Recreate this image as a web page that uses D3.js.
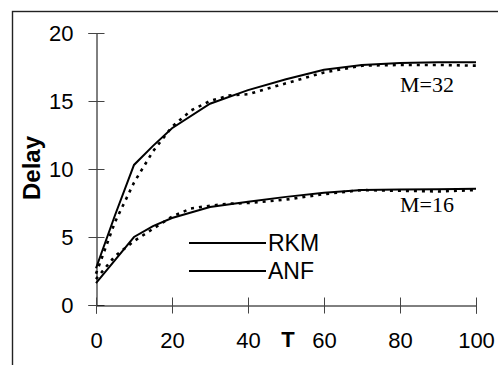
<!DOCTYPE html>
<head>
  <meta charset="utf-8">
  <script src="https://d3js.org/d3.v7.min.js"></script>
  <style>
    body { margin: 0; background: #fff; }
    svg { display: block; }
  </style>
</head>
<body>
  <div class="chart"></div>
  <script>
    // data
    var tRKM = [0, 5, 10, 15, 20, 30, 40, 50, 60, 70, 80, 90, 100];
    var rkm32 = [2.7, 6.6, 10.3, 11.7, 13.0, 14.8, 15.8, 16.6, 17.3, 17.65, 17.8, 17.85, 17.85];
    var rkm16 = [1.6, 3.3, 5.0, 5.8, 6.4, 7.2, 7.6, 7.95, 8.25, 8.45, 8.5, 8.52, 8.55];

    var tANF = [0, 5, 10, 15, 20, 25, 30, 35, 40, 50, 60, 70, 80, 90, 100];
    var anf32 = [2.3, 6.1, 9.0, 11.3, 13.1, 14.3, 15.0, 15.4, 15.5, 16.3, 17.1, 17.6, 17.65, 17.65, 17.6];
    var anf16 = [1.9, 3.6, 4.7, 5.6, 6.5, 7.1, 7.3, 7.45, 7.5, 7.75, 8.15, 8.45, 8.4, 8.35, 8.45];

    var xTicks = [0, 20, 40, 60, 80, 100];
    var yTicks = [0, 5, 10, 15, 20];
    var legendNames = ["RKM", "ANF"];

    var width = 498, height = 365;

    var svg = d3.select(".chart")
      .append("svg")
      .attr("width", width)
      .attr("height", height);

    // outer frame (runs off the right and bottom)
    svg.append("rect")
      .attr("x", 12.5).attr("y", 11.5)
      .attr("width", 600).attr("height", 600)
      .attr("fill", "none")
      .attr("stroke", "#222")
      .attr("stroke-width", 1.4);

    var x = d3.scaleLinear().domain([0, 100]).range([96, 476]);
    var y = d3.scaleLinear().domain([0, 20]).range([305, 33]);

    var sans = "'Liberation Sans', Arial, sans-serif";

    // y axis
    var gy = svg.append("g")
      .attr("transform", "translate(96.5,0)")
      .call(d3.axisLeft(y).tickValues(yTicks).tickSizeOuter(0).tickSize(8));
    gy.selectAll(".tick line").attr("x1", 8).attr("x2", -8).attr("stroke", "#444");
    gy.selectAll(".tick text")
      .attr("x", -23)
      .attr("dy", "0.35em")
      .style("font-family", sans)
      .style("font-size", "22px")
      .attr("fill", "#000");

    // x axis
    var gx = svg.append("g")
      .attr("transform", "translate(0,305.5)")
      .call(d3.axisBottom(x).tickValues(xTicks).tickSizeOuter(0).tickSize(8));
    gx.selectAll(".tick line").attr("y1", -8).attr("y2", 8).attr("stroke", "#444");
    gx.selectAll(".tick text")
      .attr("y", 42)
      .attr("dy", "0")
      .style("font-family", sans)
      .style("font-size", "22px")
      .attr("fill", "#000");
    svg.selectAll(".domain").attr("stroke", "#000");

    // axis titles
    svg.append("text")
      .attr("x", 288).attr("y", 347)
      .attr("text-anchor", "middle")
      .style("font-family", sans)
      .style("font-size", "22px")
      .style("font-weight", "bold")
      .text("T");

    svg.append("text")
      .attr("transform", "translate(40,168) rotate(-90)")
      .attr("text-anchor", "middle")
      .style("font-family", sans)
      .style("font-size", "24px")
      .style("font-weight", "bold")
      .text("Delay");

    // series
    var line = d3.line()
      .x(function(d) { return x(d[0]); })
      .y(function(d) { return y(d[1]); });

    function pairs(ts, vs) {
      return ts.map(function(t, i) { return [t, vs[i]]; });
    }

    var series = [
      { pts: pairs(tANF, anf32), dash: true },
      { pts: pairs(tANF, anf16), dash: true },
      { pts: pairs(tRKM, rkm32), dash: false },
      { pts: pairs(tRKM, rkm16), dash: false }
    ];

    svg.selectAll(".series")
      .data(series)
      .enter().append("path")
      .attr("class", "series")
      .attr("d", function(d) { return line(d.pts); })
      .attr("fill", "none")
      .attr("stroke", "#000")
      .attr("stroke-width", function(d) { return d.dash ? 2.6 : 2; })
      .attr("stroke-dasharray", function(d) { return d.dash ? "3,5" : null; });

    // curve labels
    var serif = "'Liberation Serif', 'Times New Roman', serif";
    svg.append("text")
      .attr("x", 400).attr("y", 92)
      .style("font-family", serif).style("font-size", "22px")
      .text("M=32");
    svg.append("text")
      .attr("x", 400).attr("y", 212)
      .style("font-family", serif).style("font-size", "22px")
      .text("M=16");

    // legend
    var lg = svg.selectAll(".legend")
      .data(legendNames)
      .enter().append("g")
      .attr("class", "legend")
      .attr("transform", function(d, i) { return "translate(0," + (243 + i * 28) + ")"; });
    lg.append("line")
      .attr("x1", 189).attr("x2", 266)
      .attr("stroke", "#000").attr("stroke-width", 2);
    lg.append("text")
      .attr("x", 268).attr("y", 8)
      .style("font-family", sans).style("font-size", "23px")
      .text(function(d) { return d; });
  </script>
</body>
